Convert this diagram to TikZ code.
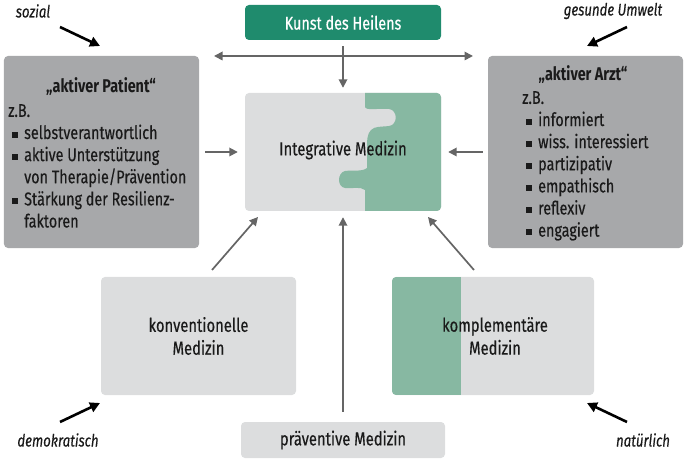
\documentclass[tikz,border=0pt]{standalone}
\usepackage{fontspec}
\setmainfont{Fira Sans}[FakeStretch=0.78, UprightFeatures={FakeBold=0.4}, ItalicFeatures={FakeBold=0.4}]
\usetikzlibrary{arrows.meta}
\definecolor{dkgreen}{HTML}{1F8B6D}
\definecolor{ltgreen}{HTML}{87B8A2}
\definecolor{ltgray}{HTML}{DCDDDE}
\definecolor{dkgray}{HTML}{A7A8AA}
\definecolor{arrgray}{HTML}{656565}
\definecolor{txt}{HTML}{1A1A1A}
\newcommand\bul{\hspace*{4bp}\raisebox{1.5bp}{\rule{6bp}{6bp}}\hspace{6bp}}
\newcommand\bulind{\hspace*{4bp}\hspace*{6bp}\hspace*{6bp}}
\begin{document}
\begin{tikzpicture}[x=1bp,y=-1bp,
  box/.style={rounded corners=4bp, inner sep=0pt, draw=none},
  lbl/.style={text=txt, font=\fontsize{19}{23}\selectfont, align=center},
  lst/.style={text=txt, font=\fontsize{18.5}{22.2}\selectfont, align=left, inner sep=0pt, anchor=north west},
  ttl/.style={text=txt, font=\fontsize{18.5}{22}\selectfont\bfseries},
  ital/.style={text=txt, font=\fontsize{17}{20}\selectfont\itshape},
  garr/.style={draw=arrgray, line width=1.7bp, -{Triangle[length=8.5bp,width=8.5bp]}},
  barr/.style={draw=black, line width=2.6bp, -{Triangle[length=10bp,width=10bp]}}]
\useasboundingbox (0,0) rectangle (684,460);
% boxes
\node[box, fill=dkgreen, minimum width=196bp, minimum height=35bp, text=white, font=\fontsize{18.5}{22}\selectfont] (kunst) at (343,22.5) {Kunst des Heilens};
\node[box, fill=ltgray, minimum width=196bp, minimum height=118bp] (integ) at (343,152) {};
\node[box, fill=dkgray, minimum width=195bp, minimum height=192bp] (patient) at (101.5,152) {};
\node[box, fill=dkgray, minimum width=195bp, minimum height=192bp] (arzt) at (585.5,152) {};
\node[box, fill=ltgray, minimum width=195bp, minimum height=118bp] (konv) at (198.5,336) {};
\node[box, fill=ltgray, minimum width=202bp, minimum height=118bp] (kompl) at (493,336) {};
\node[box, fill=ltgray, minimum width=204bp, minimum height=36bp, lbl] (praev) at (343,440) {präventive Medizin};
% puzzle overlay
\begin{scope}
\clip[rounded corners=4bp] (245,93) rectangle (441,211);
\fill[ltgreen] (365,90) -- (365,107)
  .. controls (366,111) and (379,108) .. (389,109)
  .. controls (398,110) and (398,125) .. (389,126)
  .. controls (381,127) and (375,126) .. (371,130)
  .. controls (367,134) and (367,140) .. (367,150)
  -- (367,168)
  .. controls (362,172) and (352,170) .. (345,171)
  .. controls (337,173) and (337,187) .. (345,188)
  .. controls (352,189) and (360,186) .. (365,190)
  -- (365,215) -- (445,215) -- (445,90) -- cycle;
\end{scope}
\begin{scope}
\clip[rounded corners=4bp] (392,277) rectangle (594,395);
\fill[ltgreen] (392,277) rectangle (461,395);
\end{scope}
\node[lbl] (integlabel) at (343,150) {Integrative Medizin};
\node[lbl] (konvlabel) at (198.5,336) {konventionelle\\Medizin};
\node[lbl] (kompllabel) at (495,336) {komplementäre\\Medizin};
% patient text
\node[ttl] (ptitle) at (101,87) {„aktiver Patient“};
\node[lst] (plist) at (8,104) {z.B.\\
\bul selbstverantwortlich\\
\bul aktive Unterstützung\\
\bulind von Therapie/Prävention\\
\bul Stärkung der Resilienz-\\
\bulind faktoren};
% arzt text
\node[ttl] (atitle) at (583,75) {„aktiver Arzt“};
\node[lst] (alist) at (522,91) {z.B.\\
\bul informiert\\
\bul wiss. interessiert\\
\bul partizipativ\\
\bul empathisch\\
\bul reflexiv\\
\bul engagiert};
% labels
\node[ital] (soz) at (33,11) {sozial};
\node[ital] (gu) at (613,11) {gesunde Umwelt};
\node[ital] (demo) at (58,440) {demokratisch};
\node[ital] (natl) at (643,440) {natürlich};
% coordinates
\coordinate (hl) at (214,56);
\coordinate (hr) at (473,56);
\coordinate (kl1) at (212,270);
\coordinate (kl2) at (258,217);
\coordinate (kr1) at (474,270);
\coordinate (kr2) at (428,217);
\coordinate (s1) at (60,27);
\coordinate (s2) at (100,46);
\coordinate (g1) at (627,27);
\coordinate (g2) at (587,46);
\coordinate (d1) at (60,422);
\coordinate (d2) at (100,403);
\coordinate (n1) at (627,422);
\coordinate (n2) at (587,403);
% gray arrows
\draw[garr, {Triangle[length=8.5bp,width=8.5bp]}-{Triangle[length=8.5bp,width=8.5bp]}] (hl) -- (hr);
\draw[garr, shorten <=6bp, shorten >=5bp] (kunst.south) -- (integ.north);
\draw[garr, shorten <=6bp, shorten >=7bp] (patient.east) -- (integ.west);
\draw[garr, shorten <=5bp, shorten >=7bp] (arzt.west) -- (integ.east);
\draw[garr, shorten <=10bp, shorten >=6bp] (praev.north) -- (integ.south);
\draw[garr] (kl1) -- (kl2);
\draw[garr] (kr1) -- (kr2);
% black arrows
\draw[barr] (s1) -- (s2);
\draw[barr] (g1) -- (g2);
\draw[barr] (d1) -- (d2);
\draw[barr] (n1) -- (n2);
\end{tikzpicture}
\end{document}
